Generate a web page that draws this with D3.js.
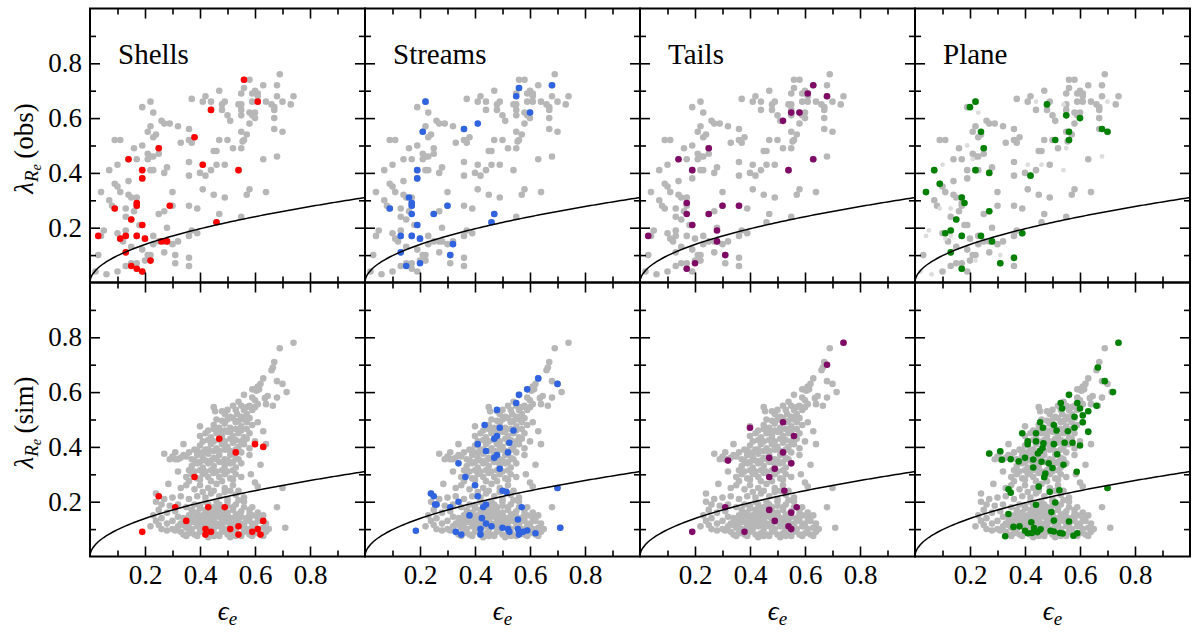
<!DOCTYPE html>
<html>
<head>
<meta charset="utf-8">
<script src="https://cdn.jsdelivr.net/npm/d3@7"></script>
<style>
  body { margin: 0; background: #fff; }
</style>
</head>
<body>
<div id="container"></div>
<script>
// ---- data: [epsilon_e, lambda_Re] ----
const panelNames = ["Shells", "Streams", "Tails", "Plane"]
const rowLabels = ["(obs)", "(sim)"]
const majorTicks = [0.2, 0.4, 0.6, 0.8]
const minorTicks = [0.1, 0.3, 0.5, 0.7, 0.9]

// observed sample, grey in every panel
const obsGrey = [
  [0.69,0.76],[0.56,0.74],[0.58,0.74],[0.56,0.71],[0.63,0.72],[0.68,0.72],[0.60,0.70],[0.61,0.69],[0.59,0.69],[0.55,0.69],[0.61,0.68],[0.68,0.68],[0.74,0.68],
  [0.42,0.68],[0.37,0.67],[0.41,0.66],[0.47,0.70],[0.59,0.66],[0.61,0.66],[0.64,0.66],[0.66,0.65],[0.73,0.65],[0.67,0.64],[0.67,0.63],
  [0.49,0.66],[0.48,0.65],[0.48,0.63],[0.44,0.63],[0.55,0.65],[0.55,0.63],[0.55,0.61],[0.58,0.62],[0.60,0.62],[0.59,0.61],[0.60,0.60],[0.50,0.61],[0.51,0.59],
  [0.67,0.60],[0.67,0.56],[0.70,0.55],[0.58,0.58],[0.55,0.55],[0.57,0.54],[0.56,0.52],[0.555,0.515],
  [0.47,0.52],[0.50,0.52],[0.52,0.49],[0.45,0.48],[0.46,0.48],[0.49,0.43],[0.44,0.41],[0.42,0.39],[0.40,0.40],[0.36,0.44],[0.36,0.39],
  [0.63,0.45],
  [0.41,0.34],[0.45,0.32],[0.49,0.31],[0.57,0.32],[0.58,0.34],[0.64,0.33],[0.36,0.28],[0.39,0.27],[0.47,0.25],[0.55,0.24],[0.46,0.22],
  [0.19,0.64],[0.22,0.66],[0.22,0.57],[0.26,0.59],[0.27,0.58],[0.29,0.58],[0.32,0.57],[0.36,0.56],[0.21,0.55],[0.24,0.54],[0.23,0.53],
  [0.09,0.52],[0.11,0.52],[0.16,0.49],[0.25,0.49],[0.33,0.51],[0.36,0.52],[0.37,0.51],[0.38,0.53],
  [0.21,0.47],[0.22,0.46],[0.23,0.46],[0.25,0.47],[0.14,0.45],[0.17,0.45],[0.07,0.41],[0.22,0.41],[0.23,0.41],[0.27,0.40],[0.28,0.42],[0.19,0.41],[0.19,0.38],
  [0.14,0.37],[0.09,0.36],[0.10,0.35],[0.11,0.33],[0.04,0.33],[0.14,0.32],[0.15,0.31],[0.17,0.31],[0.07,0.30],[0.08,0.28],[0.17,0.29],[0.17,0.28],[0.16,0.26],
  [0.30,0.33],[0.30,0.28],[0.25,0.25],[0.27,0.26],[0.15,0.23],[0.13,0.24],[0.19,0.21],[0.18,0.21],
  [0.10,0.18],[0.13,0.19],[0.12,0.15],[0.17,0.17],[0.20,0.16],[0.23,0.17],[0.28,0.20],[0.25,0.15],[0.27,0.15],[0.28,0.15],[0.30,0.14],[0.32,0.15],[0.23,0.14],
  [0.22,0.10],[0.21,0.10],[0.19,0.12],[0.15,0.13],[0.13,0.11],[0.03,0.10],[0.15,0.07],[0.17,0.07],[0.20,0.08],[0.17,0.05],[0.19,0.04],[0.13,0.06],[0.10,0.04],
  [0.27,0.11],[0.31,0.07],[0.36,0.09],[0.36,0.06],[0.36,0.17],[0.37,0.19],[0.39,0.18]
]
// observed galaxies shown faint in the Plane panel (grey elsewhere)
const obsFaint = [
  [0.23,0.62],[0.44,0.66],[0.54,0.65],[0.70,0.66],[0.19,0.50],[0.21,0.45],[0.10,0.43],[0.41,0.43],[0.46,0.43],[0.54,0.41],[0.55,0.49],
  [0.68,0.46],[0.09,0.27],[0.13,0.27],[0.04,0.17],[0.05,0.19],[0.13,0.17],[0.11,0.16],[0.31,0.10],[0.22,0.08],[0.06,0.03],[0.02,0.04]
]
const obsShells = [
  [0.56,0.74],[0.61,0.66],[0.44,0.63],[0.38,0.53],[0.25,0.49],[0.14,0.45],[0.41,0.43],[0.19,0.41],[0.54,0.41],[0.19,0.38],
  [0.17,0.29],[0.17,0.28],[0.09,0.27],[0.29,0.28],[0.15,0.23],[0.19,0.21],[0.46,0.22],[0.03,0.17],[0.11,0.16],[0.13,0.17],
  [0.17,0.17],[0.20,0.16],[0.26,0.15],[0.28,0.15],[0.13,0.11],[0.22,0.08],[0.15,0.06],[0.17,0.05],[0.19,0.04]
]
const obsStreams = [
  [0.22,0.66],[0.56,0.71],[0.55,0.68],[0.68,0.72],[0.60,0.62],[0.41,0.58],[0.36,0.56],[0.21,0.55],[0.19,0.41],[0.19,0.38],
  [0.16,0.31],[0.17,0.29],[0.17,0.28],[0.17,0.25],[0.09,0.27],[0.25,0.25],[0.30,0.28],[0.47,0.25],[0.46,0.22],[0.19,0.21],
  [0.13,0.17],[0.17,0.17],[0.20,0.16],[0.32,0.14],[0.13,0.11],[0.31,0.10],[0.20,0.07],[0.15,0.06]
]
const obsTails = [
  [0.63,0.72],[0.61,0.69],[0.68,0.68],[0.55,0.62],[0.58,0.62],[0.52,0.59],[0.63,0.45],[0.25,0.49],[0.14,0.45],[0.19,0.41],
  [0.54,0.41],[0.17,0.29],[0.17,0.25],[0.30,0.28],[0.36,0.28],[0.25,0.25],[0.19,0.21],[0.28,0.19],[0.03,0.17],[0.28,0.15],
  [0.31,0.10],[0.20,0.07],[0.17,0.05]
]
const obsPlane = [
  [0.20,0.64],[0.22,0.66],[0.48,0.65],[0.55,0.61],[0.60,0.60],[0.68,0.56],[0.70,0.55],[0.56,0.55],[0.56,0.52],[0.51,0.52],
  [0.24,0.55],[0.25,0.49],[0.07,0.41],[0.22,0.41],[0.27,0.40],[0.42,0.39],[0.09,0.36],[0.04,0.33],[0.17,0.31],[0.18,0.29],
  [0.27,0.26],[0.15,0.23],[0.13,0.19],[0.11,0.18],[0.17,0.17],[0.24,0.17],[0.39,0.18],[0.28,0.15],[0.13,0.11],[0.36,0.09],
  [0.31,0.07],[0.17,0.05]
]

// simulated sample
const simGrey = [
  [0.34,0.08],[0.36,0.085],[0.38,0.08],[0.40,0.09],[0.42,0.08],[0.44,0.085],[0.46,0.08],[0.48,0.09],[0.50,0.08],[0.52,0.085],
  [0.54,0.08],[0.56,0.09],[0.58,0.08],[0.60,0.085],[0.62,0.08],[0.64,0.09],[0.33,0.09],[0.31,0.095],[0.45,0.075],[0.53,0.075],
  [0.22,0.11],[0.26,0.10],[0.28,0.095],[0.30,0.10],[0.32,0.11],[0.35,0.105],[0.37,0.10],[0.39,0.11],[0.41,0.10],[0.43,0.11],
  [0.45,0.10],[0.47,0.11],[0.49,0.10],[0.51,0.11],[0.53,0.10],[0.55,0.11],[0.57,0.10],[0.59,0.11],[0.61,0.10],[0.63,0.105],
  [0.65,0.10],[0.71,0.105],[0.25,0.115],
  [0.24,0.13],[0.28,0.12],[0.30,0.13],[0.33,0.12],[0.35,0.13],[0.38,0.125],[0.40,0.13],[0.42,0.12],[0.44,0.13],[0.46,0.12],
  [0.48,0.13],[0.50,0.125],[0.52,0.12],[0.54,0.13],[0.56,0.12],[0.58,0.13],[0.60,0.12],[0.62,0.13],
  [0.23,0.15],[0.26,0.14],[0.32,0.145],[0.34,0.14],[0.36,0.15],[0.39,0.145],[0.41,0.15],[0.43,0.14],[0.45,0.15],[0.47,0.145],
  [0.49,0.15],[0.51,0.14],[0.53,0.15],[0.55,0.145],[0.57,0.14],[0.59,0.15],[0.63,0.15],
  [0.25,0.17],[0.28,0.16],[0.31,0.165],[0.37,0.17],[0.39,0.16],[0.42,0.17],[0.44,0.16],[0.46,0.17],[0.48,0.165],[0.50,0.16],
  [0.52,0.17],[0.55,0.165],[0.58,0.17],[0.61,0.16],[0.68,0.18],
  [0.24,0.20],[0.26,0.19],[0.29,0.185],[0.32,0.19],[0.35,0.18],[0.38,0.19],[0.40,0.185],[0.43,0.19],[0.45,0.18],[0.47,0.19],
  [0.50,0.185],[0.53,0.19],[0.56,0.20],[0.59,0.18],
  [0.24,0.23],[0.27,0.21],[0.30,0.215],[0.33,0.22],[0.36,0.21],[0.39,0.22],[0.42,0.215],[0.44,0.23],[0.47,0.22],[0.50,0.21],
  [0.53,0.225],[0.56,0.215],
  [0.285,0.265],[0.33,0.25],[0.35,0.26],[0.38,0.245],[0.40,0.26],[0.43,0.25],[0.46,0.265],[0.49,0.25],[0.52,0.26],[0.54,0.24],
  [0.60,0.27],[0.61,0.255],[0.70,0.25],
  [0.32,0.31],[0.35,0.29],[0.37,0.30],[0.39,0.285],[0.41,0.30],[0.43,0.29],[0.45,0.305],[0.47,0.29],[0.49,0.30],[0.51,0.285],
  [0.53,0.30],[0.55,0.29],[0.585,0.30],
  [0.37,0.33],[0.39,0.34],[0.41,0.325],[0.43,0.34],[0.45,0.33],[0.47,0.345],[0.49,0.33],[0.51,0.34],[0.53,0.325],[0.55,0.34],
  [0.62,0.335],
  [0.27,0.375],[0.31,0.38],[0.31,0.355],[0.33,0.36],[0.35,0.365],[0.37,0.355],[0.39,0.37],[0.41,0.36],[0.43,0.375],[0.45,0.36],
  [0.47,0.37],[0.49,0.355],[0.51,0.37],[0.53,0.36],[0.58,0.37],[0.36,0.38],
  [0.34,0.41],[0.38,0.39],[0.40,0.405],[0.42,0.39],[0.44,0.41],[0.46,0.395],[0.48,0.41],[0.50,0.40],[0.52,0.415],[0.54,0.40],
  [0.56,0.41],[0.58,0.395],[0.64,0.41],[0.60,0.42],
  [0.40,0.44],[0.42,0.45],[0.44,0.435],[0.46,0.45],[0.48,0.44],[0.50,0.455],[0.52,0.44],[0.54,0.45],[0.56,0.435],[0.58,0.45],
  [0.63,0.457],
  [0.40,0.475],[0.45,0.48],[0.47,0.47],[0.49,0.485],[0.51,0.47],[0.53,0.49],[0.55,0.475],[0.57,0.49],[0.59,0.48],[0.61,0.49],
  [0.45,0.545],[0.455,0.53],[0.48,0.53],[0.49,0.52],[0.51,0.51],[0.53,0.535],[0.535,0.52],[0.55,0.51],[0.57,0.52],[0.59,0.535],
  [0.54,0.565],[0.55,0.55],[0.57,0.545],[0.56,0.59],[0.59,0.58],[0.60,0.57],[0.61,0.556],[0.64,0.556],[0.665,0.55],[0.646,0.586],
  [0.636,0.578],[0.68,0.58],
  [0.59,0.61],[0.60,0.61],[0.605,0.605],[0.61,0.62],[0.615,0.61],[0.62,0.63],[0.63,0.65],[0.68,0.64],[0.70,0.63],[0.715,0.60],
  [0.66,0.68],[0.665,0.69],[0.67,0.71],[0.69,0.76],[0.74,0.78],
  // denser cores of the simulated cloud
  [0.38,0.35],[0.40,0.345],[0.42,0.35],[0.44,0.35],[0.46,0.355],[0.48,0.345],[0.50,0.35],[0.52,0.345],[0.54,0.355],
  [0.39,0.385],[0.41,0.38],[0.43,0.39],[0.45,0.385],[0.47,0.385],[0.49,0.39],[0.51,0.385],[0.53,0.39],[0.55,0.38],
  [0.41,0.42],[0.43,0.425],[0.45,0.42],[0.47,0.425],[0.49,0.42],[0.51,0.43],[0.53,0.425],[0.55,0.42],[0.57,0.43],
  [0.43,0.46],[0.45,0.465],[0.47,0.455],[0.49,0.46],[0.51,0.455],[0.53,0.465],[0.55,0.46],[0.57,0.465],
  [0.46,0.50],[0.48,0.495],[0.50,0.50],[0.52,0.505],[0.54,0.495],[0.56,0.50],[0.58,0.505],
  [0.50,0.535],[0.52,0.55],[0.56,0.535],[0.58,0.55],[0.60,0.545],
  [0.32,0.355],[0.34,0.37],[0.30,0.365],[0.29,0.355],
  [0.36,0.315],[0.38,0.31],[0.40,0.315],[0.42,0.31],[0.44,0.315],[0.46,0.31],[0.48,0.315],[0.50,0.31],[0.52,0.315],
  [0.36,0.275],[0.40,0.28],[0.44,0.275],[0.48,0.275],[0.52,0.28],
  [0.35,0.075],[0.39,0.075],[0.43,0.07],[0.47,0.075],[0.51,0.07],[0.55,0.075],[0.59,0.075],[0.63,0.075],
  [0.34,0.115],[0.36,0.12],[0.40,0.115],[0.44,0.115],[0.48,0.115],[0.52,0.11],[0.56,0.115],[0.60,0.11],[0.64,0.12],
  [0.37,0.135],[0.41,0.135],[0.45,0.135],[0.49,0.14],[0.53,0.135],[0.57,0.135],[0.61,0.14],
  [0.38,0.155],[0.42,0.155],[0.46,0.155],[0.50,0.15],[0.54,0.155],[0.58,0.155],
  [0.40,0.175],[0.44,0.175],[0.48,0.18],[0.52,0.18],[0.56,0.18],
  [0.42,0.20],[0.46,0.20],[0.50,0.20],[0.54,0.205],
  [0.41,0.235],[0.45,0.24],[0.49,0.235],[0.51,0.24]
]
const simShells = [
  [0.47,0.43],[0.60,0.41],[0.63,0.40],[0.53,0.38],[0.38,0.29],[0.25,0.22],[0.31,0.18],[0.43,0.18],[0.49,0.18],[0.63,0.13],
  [0.35,0.13],[0.19,0.09],[0.42,0.10],[0.42,0.08],[0.44,0.09],[0.51,0.10],[0.54,0.11],[0.54,0.08],[0.59,0.09],[0.61,0.10],
  [0.62,0.08]
]
const simStreams = [
  [0.63,0.65],[0.70,0.63],[0.59,0.61],[0.56,0.59],[0.55,0.56],[0.48,0.535],[0.435,0.48],[0.49,0.47],[0.54,0.46],[0.48,0.44],
  [0.47,0.43],[0.41,0.41],[0.525,0.415],[0.44,0.385],[0.48,0.37],[0.52,0.38],[0.47,0.36],[0.34,0.34],[0.49,0.32],[0.365,0.29],
  [0.40,0.26],[0.50,0.24],[0.515,0.235],[0.70,0.25],[0.24,0.23],[0.25,0.22],[0.255,0.19],[0.26,0.19],[0.31,0.18],[0.34,0.20],
  [0.41,0.22],[0.44,0.19],[0.43,0.18],[0.57,0.18],[0.38,0.15],[0.425,0.14],[0.44,0.12],[0.46,0.11],[0.556,0.135],[0.185,0.094],
  [0.33,0.09],[0.35,0.08],[0.42,0.10],[0.42,0.08],[0.50,0.105],[0.52,0.10],[0.525,0.09],[0.556,0.10],[0.56,0.08],[0.575,0.09],
  [0.59,0.095],[0.62,0.085],[0.71,0.105]
]
const simTails = [
  [0.74,0.78],[0.68,0.70],[0.40,0.47],[0.52,0.49],[0.56,0.44],[0.32,0.35],[0.47,0.36],[0.52,0.38],[0.55,0.34],[0.49,0.32],
  [0.47,0.29],[0.525,0.24],[0.31,0.18],[0.47,0.17],[0.55,0.16],[0.57,0.18],[0.49,0.13],[0.54,0.11],[0.55,0.10],[0.38,0.09],
  [0.19,0.09]
]
const simPlane = [
  [0.74,0.78],[0.665,0.69],[0.69,0.64],[0.72,0.60],[0.56,0.59],[0.53,0.56],[0.535,0.54],[0.59,0.56],[0.60,0.54],[0.66,0.55],
  [0.63,0.53],[0.61,0.515],[0.58,0.51],[0.61,0.49],[0.455,0.49],[0.465,0.47],[0.505,0.48],[0.515,0.46],[0.58,0.47],[0.556,0.457],
  [0.63,0.455],[0.39,0.45],[0.44,0.45],[0.41,0.42],[0.41,0.41],[0.44,0.42],[0.467,0.413],[0.505,0.41],[0.544,0.415],[0.573,0.415],
  [0.60,0.405],[0.464,0.396],[0.455,0.385],[0.447,0.376],[0.517,0.373],[0.27,0.376],[0.31,0.384],[0.316,0.353],[0.348,0.355],[0.377,0.347],
  [0.40,0.36],[0.43,0.354],[0.46,0.346],[0.486,0.34],[0.54,0.335],[0.43,0.325],[0.50,0.323],[0.474,0.303],[0.47,0.289],[0.588,0.309],
  [0.45,0.255],[0.34,0.245],[0.348,0.233],[0.49,0.236],[0.525,0.242],[0.70,0.25],[0.51,0.197],[0.44,0.189],[0.34,0.155],[0.496,0.162],
  [0.505,0.131],[0.56,0.128],[0.358,0.108],[0.38,0.11],[0.423,0.125],[0.40,0.094],[0.41,0.085],[0.425,0.086],[0.433,0.104],[0.445,0.089],
  [0.457,0.099],[0.493,0.094],[0.505,0.091],[0.527,0.086],[0.537,0.084],[0.576,0.076],[0.59,0.085],[0.328,0.074]
]

// ---- layout ----
let width = 1200
let height = 632
let panelLeft = 90
let panelTop = 8.5
let panelW = 275
let panelH = 274
let colors = ["#ff0000", "#3063e0", "#800b66", "#008000"]
let greyColor = "#b7b7b7"
let faintColor = "#dddddd"
let fontSize = 27
let serif = "'Liberation Serif', 'Times New Roman', Times, 'Noto Serif', 'DejaVu Serif', FreeSerif, 'Nimbus Roman', serif"

let x = d3.scaleLinear().domain([0, 1]).range([0, panelW])
let y = d3.scaleLinear().domain([0, 1]).range([panelH, 0])

let svg = d3.select("#container")
    .append("svg")
    .attr("width", width)
    .attr("height", height)
    .style("font-family", serif)

svg.append("defs").append("clipPath")
    .attr("id", "clip")
    .append("rect")
    .attr("width", panelW)
    .attr("height", panelH)

// slow/fast rotator dividing line, lambda = 0.31 sqrt(eps)
let curve = d3.line()
    .x(d => x(d))
    .y(d => y(0.31 * Math.sqrt(d)))
let curveEps = [0, 0.0005, 0.002, 0.005].concat(d3.range(0.01, 1.0001, 0.01))

let rows = [
    {grey: obsGrey, faint: obsFaint, sets: [obsShells, obsStreams, obsTails, obsPlane]},
    {grey: simGrey, faint: [], sets: [simShells, simStreams, simTails, simPlane]}
]

function dots(g, pts, fill, r) {
    g.append("g")
        .selectAll("circle")
        .data(pts)
        .join("circle")
            .attr("cx", d => x(d[0]))
            .attr("cy", d => y(d[1]))
            .attr("r", r)
            .attr("fill", fill)
}

function addAxes(g, xLabels, yLabels) {
    let fmt = d3.format(".1f")
    let sides = [
        [d3.axisBottom(x), `translate(0,${panelH})`, xLabels],
        [d3.axisTop(x), null, false],
        [d3.axisLeft(y), null, yLabels],
        [d3.axisRight(y), `translate(${panelW},0)`, false]
    ]
    sides.forEach(([axis, tr, labels]) => {
        let major = g.append("g")
            .attr("transform", tr)
            .call(axis.tickValues(majorTicks).tickSize(-10).tickPadding(8)
                .tickFormat(labels ? fmt : () => ""))
        major.select(".domain").remove()
        major.attr("font-family", serif).attr("font-size", fontSize)
        major.selectAll("line").attr("stroke-width", 1.6)
        major.selectAll("text").attr("fill", "#000")

        let minor = g.append("g")
            .attr("transform", tr)
            .call(axis.tickValues(minorTicks).tickSize(-6).tickFormat(() => ""))
        minor.select(".domain").remove()
        minor.selectAll("line").attr("stroke-width", 1.6)
    })
}

rows.forEach((row, r) => {
    panelNames.forEach((name, c) => {
        let g = svg.append("g")
            .attr("transform", `translate(${panelLeft + c * panelW},${panelTop + r * panelH})`)

        let plot = g.append("g").attr("clip-path", "url(#clip)")

        if (c == 3) {
            dots(plot, row.grey, greyColor, 3.3)
            dots(plot, row.faint, faintColor, 2.4)
        } else {
            dots(plot, row.grey.concat(row.faint), greyColor, 3.3)
        }
        dots(plot, row.sets[c], colors[c], 3.3)

        plot.append("path")
            .datum(curveEps)
            .attr("d", curve)
            .attr("fill", "none")
            .attr("stroke", "#000")
            .attr("stroke-width", 1.5)

        addAxes(g, r == 1, c == 0)

        g.append("rect")
            .attr("width", panelW)
            .attr("height", panelH)
            .attr("fill", "none")
            .attr("stroke", "#000")
            .attr("stroke-width", 2)

        if (r == 0) {
            g.append("text")
                .attr("x", 28)
                .attr("y", 55)
                .attr("font-family", serif)
                .attr("font-size", 29)
                .text(name)
        }

        if (r == 1) {
            let xl = g.append("text")
                .attr("x", panelW / 2)
                .attr("y", panelH + 63)
                .attr("text-anchor", "middle")
                .attr("font-family", serif)
                .attr("font-size", fontSize)
            xl.append("tspan").attr("font-style", "italic").text("\u03f5")
            xl.append("tspan").attr("font-style", "italic").attr("font-size", 19).attr("dy", 5).text("e")
        }

        if (c == 0) {
            let yl = g.append("text")
                .attr("transform", `translate(${33 - panelLeft},${panelH / 2 + 3}) rotate(-90)`)
                .attr("text-anchor", "middle")
                .attr("font-family", serif)
                .attr("font-size", fontSize)
            yl.append("tspan").attr("font-style", "italic").text("\u03bb")
            yl.append("tspan").attr("font-style", "italic").attr("font-size", 19).attr("dy", 5).text("R")
            yl.append("tspan").attr("font-style", "italic").attr("font-size", 14).attr("dy", 3).text("e")
            yl.append("tspan").attr("dy", -8).text("\u2009" + rowLabels[r])
        }
    })
})
</script>
</body>
</html>
